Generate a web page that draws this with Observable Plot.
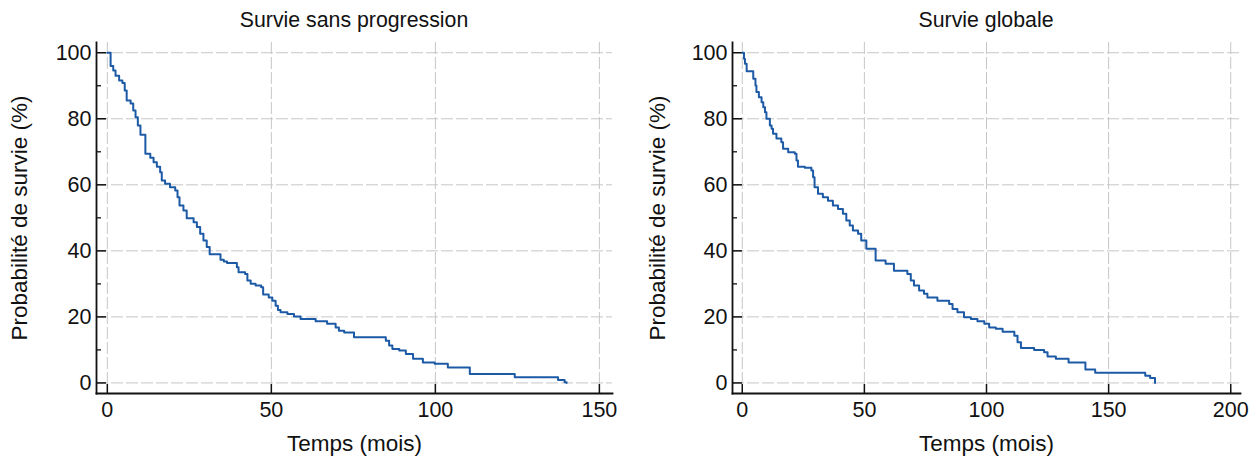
<!DOCTYPE html>
<html>
<head>
<meta charset="utf-8">
<script src="https://cdn.jsdelivr.net/npm/d3@7"></script>
<script src="https://cdn.jsdelivr.net/npm/@observablehq/plot@0.6"></script>
<style>
  html, body { margin: 0; padding: 0; background: #fff; }
  #wrap { position: relative; width: 1258px; height: 459px; font-family: "Liberation Sans", Arial, sans-serif; }
  .panel { position: absolute; top: 0; width: 629px; height: 459px; }
  .title { position: absolute; top: 7px; font-size: 21.3px; line-height: 26px; color: #111; white-space: nowrap; transform: translateX(-50%); }
  .panel svg { display: block; }
</style>
</head>
<body>
<div id="wrap">
  <div class="panel" id="left"></div>
  <div class="panel" id="right" style="left:629px"></div>
</div>
<script>
// ---------- Data ----------
const titles = ["Survie sans progression", "Survie globale"];
const xLabel = "Temps (mois)";
const yLabel = "Probabilité de survie (%)";

const yTicks = [0, 20, 40, 60, 80, 100];
const yMinorTicks = [10, 30, 50, 70, 90];
const pfsXTicks = [0, 50, 100, 150];
const osXTicks = [0, 50, 100, 150, 200];

// Survie sans progression (PFS)
const pfsMonths = [0, 1, 1.8, 2.5, 3.6, 4.6, 5.3, 5.9, 7.1, 7.9, 8.6, 9.3, 10.1, 11.6, 13.1, 14.1, 15.1, 16.1, 16.6, 17.6,
  19.1, 20.7, 21.4, 22, 23.2, 24.2, 26.3, 27.3, 28.3, 29.3, 30.3, 31.2, 34.5, 35.5, 36.5, 39.5, 40, 42, 42.7, 43.7,
  45.2, 46.9, 47.5, 49.2, 50.3, 51.3, 52, 52.8, 54.9, 56.9, 58.9, 63.5, 67, 69.6, 70.6, 72.2, 75.2, 84.9, 85.9, 86.9,
  89, 91, 93.2, 96.2, 99.8, 103.8, 110.5, 124.2, 137.4, 139.4, 140];
const pfsSurvival = [100, 96, 94.6, 93, 91.6, 90.8, 88.6, 85.5, 84.6, 82.5, 80.5, 78, 75.2, 69.4, 68.2, 66.8, 65.5, 63.8, 61.3, 60.3,
  59.3, 58.3, 56.2, 53.7, 52.2, 49.9, 48.7, 47.2, 45.2, 43.1, 41.2, 39, 37.3, 36.8, 36.3, 35, 33.5, 33, 31, 30,
  29.5, 29, 26.8, 25.9, 24.9, 23.4, 22.1, 21.4, 20.9, 20.1, 19.4, 18.7, 17.9, 16.8, 15.8, 15.3, 13.8, 12.8, 11.3, 10.3,
  9.8, 8.8, 7.3, 6.2, 5.8, 4.7, 2.7, 1.7, 0.9, 0.2, 0];

// Survie globale (OS)
const osMonths = [0, 0.7, 1.1, 1.8, 4.5, 5.4, 5.8, 6.8, 7.9, 8.6, 9.3, 9.9, 11.3, 12, 12.6, 14, 16, 16.7, 18.8, 21.5,
  22.2, 22.8, 25.6, 28.3, 29, 29.6, 31, 33, 35.1, 37.1, 39.2, 41.2, 42.6, 44, 45.3, 47.4, 48.7, 50.8, 54.6, 58.7,
  62.1, 67.6, 69, 70.3, 72.4, 74.4, 75.8, 79.9, 84.7, 86.1, 88.1, 90.8, 93.6, 96.3, 99.1, 101.1, 103.8, 106.6, 111.4, 112.7,
  114.1, 119.5, 123.6, 125, 128.4, 133.6, 140.5, 144.5, 165, 167, 169];
const osSurvival = [100, 98.2, 96.7, 94.4, 92.1, 90.1, 88.1, 86.5, 85, 83.5, 82, 80, 78, 77, 75.5, 74, 72.9, 70.9, 69.9, 69.4,
  67.4, 65.5, 65.2, 64.3, 62.3, 59.3, 57.3, 56.2, 55.2, 53.7, 52.7, 51.2, 49.2, 47.7, 46.2, 45.2, 43.1, 40.6, 37.1, 36.1,
  34, 33, 31, 29.5, 28, 27, 25.9, 24.9, 23.9, 22.4, 21.4, 19.9, 19.4, 18.7, 17.9, 16.8, 16.4, 15.5, 14.3, 12.3,
  10.6, 10, 9.3, 8, 7.3, 6.2, 4.1, 3.1, 2.2, 1.5, 0];

// ---------- Drawing ----------
const lineColor = "#1d5aa6";
const gridStyle = {stroke: "#c6c6c6", strokeOpacity: 1, strokeWidth: 1, strokeDasharray: "12,3"};
const tickFont = 21.5;
const labelFont = 22.5;

function panel(months, survival, xTicks, xDomain, marginLeft, marginRight, yLabelOffset) {
  const data = months.map((m, i) => ({t: m, s: survival[i]}));
  return Plot.plot({
    width: 629,
    height: 459,
    marginLeft,
    marginRight,
    marginTop: 42,
    marginBottom: 66,
    x: {domain: xDomain},
    y: {domain: [-3.2, 103.1]},
    style: {fontFamily: "'Liberation Sans', Arial, sans-serif", fontSize: tickFont + "px", color: "#111", background: "white", overflow: "visible"},
    marks: [
      Plot.gridY(yTicks, gridStyle),
      Plot.gridX(xTicks, gridStyle),
      Plot.axisY(yTicks, {tickSize: 0, tickPadding: 5, label: null, fontSize: tickFont}),
      Plot.axisY({label: yLabel, ticks: [], tickSize: 0, labelAnchor: "center", labelArrow: "none", labelOffset: yLabelOffset, fontSize: labelFont}),
      Plot.axisY(yTicks, {tickSize: -10, text: null, label: null, strokeWidth: 1.5}),
      Plot.axisY(yMinorTicks, {tickSize: -5, text: null, label: null, strokeWidth: 1.3}),
      Plot.axisX(xTicks, {tickSize: 0, tickPadding: 8, label: null, fontSize: tickFont}),
      Plot.axisX({label: xLabel, ticks: [], tickSize: 0, labelAnchor: "center", labelArrow: "none", labelOffset: 57, fontSize: labelFont}),
      Plot.axisX(xTicks, {tickSize: -9, text: null, label: null, strokeWidth: 1.5}),
      Plot.frame({anchor: "left", stroke: "#111", strokeWidth: 1.8}),
      Plot.frame({anchor: "bottom", stroke: "#111", strokeWidth: 1.8}),
      Plot.line(data, {x: "t", y: "s", curve: "step-after", stroke: lineColor, strokeWidth: 2})
    ]
  });
}

const left = document.getElementById("left");
const right = document.getElementById("right");
left.append(panel(pfsMonths, pfsSurvival, pfsXTicks, [-3.3, 154], 96, 17, 85));
right.append(panel(osMonths, osSurvival, osXTicks, [-4, 204], 103, 18, 83));

function addTitle(el, text, cx) {
  const d = document.createElement("div");
  d.className = "title";
  d.textContent = text;
  d.style.left = cx + "px";
  el.append(d);
}
addTitle(left, titles[0], 354);
addTitle(right, titles[1], 986 - 629);
</script>
</body>
</html>
